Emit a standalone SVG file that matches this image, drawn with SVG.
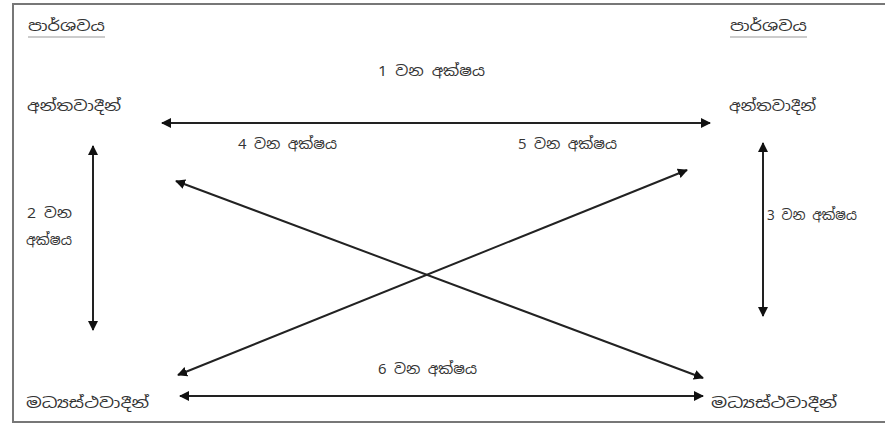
<svg xmlns="http://www.w3.org/2000/svg" width="885" height="429" viewBox="0 0 885 429">
  <style>
    text { font-family: "Noto Sans Sinhala", "Noto Sans", "DejaVu Sans", sans-serif; font-size: 14px; fill: #333; }
    .ul { stroke: #ccc; stroke-width: 2; }
    .ax { stroke: #222; stroke-width: 2; fill: none; marker-start: url(#ah); marker-end: url(#ah); }
  </style>
  <defs>
    <marker id="ah" viewBox="0 0 10 10" refX="9" refY="5" markerWidth="5" markerHeight="5" orient="auto-start-reverse" markerUnits="strokeWidth">
      <path d="M0,0 L10,5 L0,10 z" fill="#111"/>
    </marker>
  </defs>
  <rect x="0" y="0" width="885" height="429" fill="#fff"/>
  <rect id="frame" x="13" y="4" width="880" height="418" fill="none" stroke="#777" stroke-width="2"/>

  <g id="connectors">
    <line class="ax" x1="162" y1="123" x2="710" y2="123"/>
    <line class="ax" x1="180" y1="396" x2="703" y2="396"/>
    <line class="ax" x1="93" y1="146" x2="93" y2="330"/>
    <line class="ax" x1="763" y1="143" x2="763" y2="316"/>
    <line class="ax" x1="176" y1="181" x2="703" y2="378"/>
    <line class="ax" x1="178" y1="375" x2="687" y2="170"/>
  </g>

  <g id="party-left">
    <text x="28" y="31" textLength="77" lengthAdjust="spacingAndGlyphs">පාර්ශවය</text>
    <line class="ul" x1="28" y1="37" x2="105" y2="37"/>
  </g>
  <g id="party-right">
    <text x="730" y="31" textLength="77" lengthAdjust="spacingAndGlyphs">පාර්ශවය</text>
    <line class="ul" x1="730" y1="37" x2="807" y2="37"/>
  </g>
  <g id="extremists-left"><text x="27" y="111" textLength="94" lengthAdjust="spacingAndGlyphs">අන්තවාදීන්</text></g>
  <g id="extremists-right"><text x="729" y="111" textLength="87" lengthAdjust="spacingAndGlyphs">අන්තවාදීන්</text></g>
  <g id="moderates-left"><text x="26" y="408" textLength="123" lengthAdjust="spacingAndGlyphs">මධ්‍යස්ථවාදීන්</text></g>
  <g id="moderates-right"><text x="711" y="408" textLength="126" lengthAdjust="spacingAndGlyphs">මධ්‍යස්ථවාදීන්</text></g>

  <g id="axis-labels">
    <text x="378" y="76" textLength="107" lengthAdjust="spacingAndGlyphs">1 වන අක්ෂය</text>
    <text x="27" y="218" textLength="45" lengthAdjust="spacingAndGlyphs">2 වන</text>
    <text x="26" y="245" textLength="46" lengthAdjust="spacingAndGlyphs">අක්ෂය</text>
    <text x="767" y="220" textLength="90" lengthAdjust="spacingAndGlyphs">3 වන අක්ෂය</text>
    <text x="238" y="149" textLength="99" lengthAdjust="spacingAndGlyphs">4 වන අක්ෂය</text>
    <text x="518" y="149" textLength="99" lengthAdjust="spacingAndGlyphs">5 වන අක්ෂය</text>
    <text x="378" y="374" textLength="99" lengthAdjust="spacingAndGlyphs">6 වන අක්ෂය</text>
  </g>
</svg>
